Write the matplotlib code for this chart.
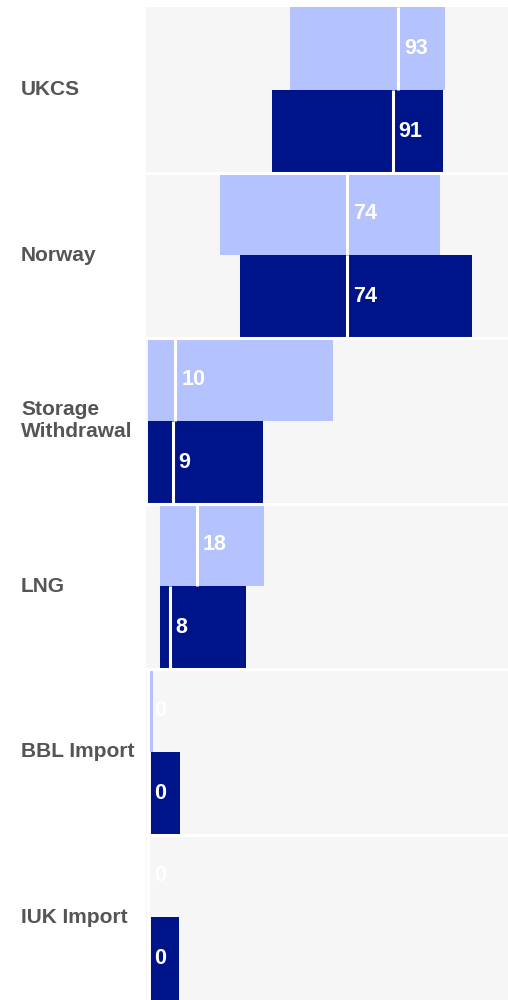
import matplotlib.pyplot as plt

light = '#b4c2fd'
dark = '#001489'
panel_bg = '#f6f6f6'
label_gray = '#555555'

plt.rcParams['font.family'] = ['Liberation Sans', 'DejaVu Sans']

categories = ['UKCS', 'Norway', 'Storage\nWithdrawal', 'LNG', 'BBL Import', 'IUK Import']

# light (upper) bars: range low..high, marker at value
light_low = [52.8, 26.7, 0.0, 4.3, 0.2, 0.0]
light_high = [110.5, 108.6, 68.8, 43.1, 1.7, 0.0]
light_value = [93, 74, 10, 18, 0, 0]

# dark (lower) bars
dark_low = [46.0, 34.1, 0.0, 4.3, 1.0, 1.0]
dark_high = [109.8, 120.6, 42.7, 36.4, 11.8, 11.4]
dark_value = [91, 74, 9, 8, 0, 0]

fig = plt.figure(figsize=(5.08, 10.0), dpi=100)
ax = fig.add_axes([146 / 508, 0.0, 362 / 508, 0.993])
ax.set_xlim(-0.9, 134.0)
ax.set_ylim(len(categories), 0)
ax.axis('off')

for i, name in enumerate(categories):
    ax.axhspan(i, i + 1, color=panel_bg, lw=0, zorder=0)

    for row, lo, hi, val in ((0.25, light_low[i], light_high[i], light_value[i]),
                             (0.75, dark_low[i], dark_high[i], dark_value[i])):
        color = light if row < 0.5 else dark
        ax.barh(i + row, hi - lo, left=lo, height=0.5, color=color, lw=0, zorder=2)
        ax.vlines(val, i + row - 0.25, i + row + 0.25, color='white', lw=2.2, zorder=3)
        ax.annotate(str(val), (val, i + row), xytext=(4.3, 0), textcoords='offset points',
                    ha='left', va='center', color='white', fontsize=15.5,
                    fontweight='bold', zorder=4)

    fig.text(21 / 508, 1 - (7 + (i + 0.5) * 165.5) / 1000, name, ha='left', va='center',
             color=label_gray, fontsize=15, fontweight='bold', linespacing=1.2)

# white separators between the panels
for i in range(1, len(categories)):
    ax.axhline(i, color='white', lw=2.2, zorder=5)

fig.savefig('out.png', dpi=100, facecolor='white')
